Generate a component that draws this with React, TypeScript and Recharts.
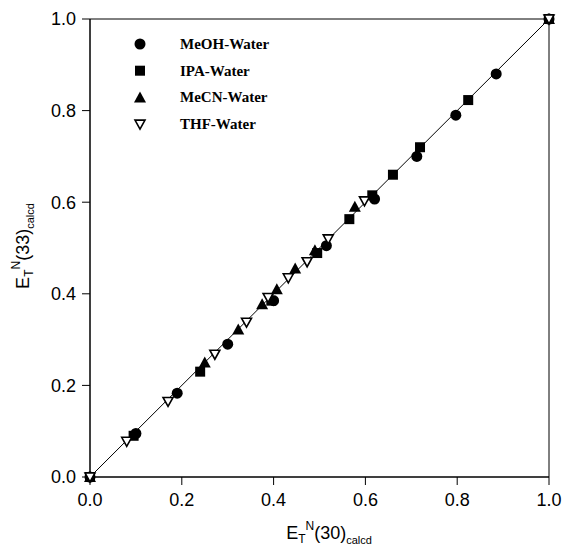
import { ScatterChart, Scatter, XAxis, YAxis, ReferenceLine, ReferenceArea, Legend, Label } from 'recharts';

// E_T^N(30) vs E_T^N(33) for each binary solvent mixture
const MEOH_X = [0, 0.1, 0.19, 0.3, 0.4, 0.515, 0.62, 0.712, 0.797, 0.885, 1];
const MEOH_Y = [0, 0.095, 0.183, 0.29, 0.385, 0.505, 0.607, 0.7, 0.79, 0.88, 1];

const IPA_X = [0, 0.095, 0.24, 0.395, 0.495, 0.565, 0.615, 0.66, 0.719, 0.824, 1];
const IPA_Y = [0, 0.09, 0.23, 0.385, 0.489, 0.563, 0.615, 0.66, 0.72, 0.823, 1];

const MECN_X = [0, 0.25, 0.323, 0.375, 0.407, 0.447, 0.49, 0.577, 1];
const MECN_Y = [0, 0.25, 0.322, 0.377, 0.41, 0.455, 0.495, 0.59, 1];

const THF_X = [0, 0.08, 0.17, 0.272, 0.341, 0.388, 0.432, 0.473, 0.519, 0.598, 1];
const THF_Y = [0, 0.078, 0.165, 0.268, 0.338, 0.392, 0.435, 0.47, 0.52, 0.603, 1];

const TICKS = [0, 0.2, 0.4, 0.6, 0.8, 1.0];

const zip = (xs: number[], ys: number[]) => xs.map((x, i) => ({ x, y: ys[i] }));

const Circle = ({ cx, cy }: any) => <circle cx={cx} cy={cy} r={5.5} fill="#000" />;
const Square = ({ cx, cy }: any) => <rect x={cx - 5} y={cy - 5} width={10} height={10} fill="#000" />;
const TriUp = ({ cx, cy }: any) => (
    <path d={`M${cx},${cy - 6} L${cx + 6},${cy + 5} L${cx - 6},${cy + 5} Z`} fill="#000" />
);
const TriDown = ({ cx, cy }: any) => (
    <path
        d={`M${cx - 5},${cy - 4} L${cx + 5},${cy - 4} L${cx},${cy + 5} Z`}
        fill="#fff"
        stroke="#000"
        strokeWidth={1.6}
    />
);

const SERIES = [
    { name: 'MeOH-Water', data: zip(MEOH_X, MEOH_Y), shape: Circle },
    { name: 'IPA-Water', data: zip(IPA_X, IPA_Y), shape: Square },
    { name: 'MeCN-Water', data: zip(MECN_X, MECN_Y), shape: TriUp },
    { name: 'THF-Water', data: zip(THF_X, THF_Y), shape: TriDown },
];

const LegendBox = () => (
    <svg width={200} height={110}>
        {SERIES.map((s, i) => {
            const Shape = s.shape;
            const y = 10 + i * 26.7;
            return (
                <g key={s.name}>
                    <Shape cx={10} cy={y} />
                    <text
                        x={50}
                        y={y + 5}
                        fontFamily="'Liberation Serif', serif"
                        fontWeight="bold"
                        fontSize={15}
                        fill="#000"
                    >
                        {s.name}
                    </text>
                </g>
            );
        })}
    </svg>
);

const axisFont = { fontFamily: "'Liberation Sans', Arial, sans-serif", fontSize: 18, fill: '#000' };

const AxisTitle = ({ num, x, y, rotate }: { num: string; x: number; y: number; rotate?: boolean }) => (
    <text
        transform={rotate ? `translate(${x},${y}) rotate(-90)` : `translate(${x},${y})`}
        textAnchor="middle"
        fontFamily="'Liberation Sans', Arial, sans-serif"
        fontSize={18}
        fill="#000"
    >
        <tspan>E</tspan>
        <tspan fontSize={12} dy={4}>T</tspan>
        <tspan fontSize={12} dy={-13}>N</tspan>
        <tspan dy={9}>({num})</tspan>
        <tspan fontSize={11} dy={5}>calcd</tspan>
    </text>
);

export default function App() {
    return (
        <div style={{ position: 'absolute', left: 0, top: 0 }}>
            <ScatterChart width={566} height={547} margin={{ top: 19, right: 17, left: 0, bottom: 0 }}>
                <XAxis
                    type="number"
                    dataKey="x"
                    domain={[0, 1]}
                    ticks={TICKS}
                    tickFormatter={(v: number) => v.toFixed(1)}
                    tick={axisFont}
                    tickSize={8}
                    tickMargin={8}
                    height={70}
                    stroke="#000"
                >
                    <Label content={() => <AxisTitle num="30" x={329} y={539} />} />
                </XAxis>
                <YAxis
                    type="number"
                    dataKey="y"
                    domain={[0, 1]}
                    ticks={TICKS}
                    tickFormatter={(v: number) => v.toFixed(1)}
                    tick={axisFont}
                    tickSize={8}
                    tickMargin={6}
                    width={90}
                    stroke="#000"
                >
                    <Label content={() => <AxisTitle num="33" x={29} y={246} rotate />} />
                </YAxis>
                <ReferenceArea x1={0} x2={1} y1={0} y2={1} fill="none" stroke="#000" strokeWidth={1} />
                <ReferenceLine
                    segment={[
                        { x: 0, y: 0 },
                        { x: 1, y: 1 },
                    ]}
                    stroke="#000"
                    strokeWidth={1}
                />
                {SERIES.map((s) => (
                    <Scatter key={s.name} name={s.name} data={s.data} shape={s.shape} isAnimationActive={false} />
                ))}
                <Legend
                    layout="horizontal"
                    align="center"
                    verticalAlign="middle"
                    wrapperStyle={{ top: 34, left: 130, width: 200, height: 110 }}
                    content={() => <LegendBox />}
                />
            </ScatterChart>
        </div>
    );
}
